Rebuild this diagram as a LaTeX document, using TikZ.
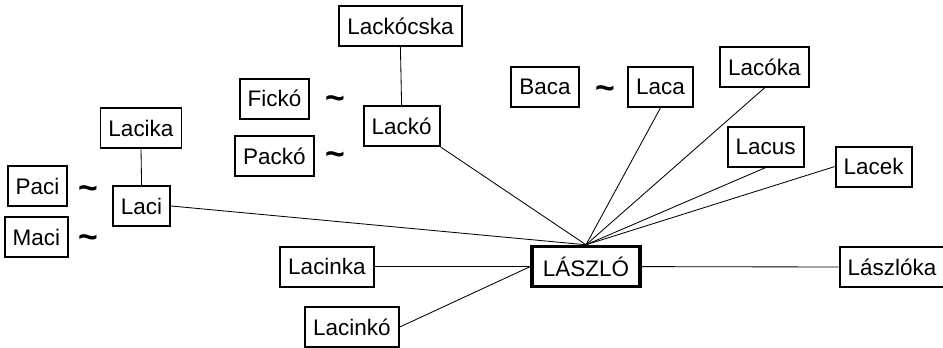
\documentclass[tikz,border=0pt]{standalone}
\usepackage{fontspec}
\setmainfont{Liberation Sans}
\usepackage{tikz}

\begin{document}
\begin{tikzpicture}[
	namebox/.style={draw,line width=1.4pt,inner xsep=0.2cm,minimum height=1cm,font=\fontsize{16}{18}\selectfont},
	mainbox/.style={namebox,line width=2.6pt,inner xsep=0.27cm},
	rokon/.style={font=\fontsize{24}{24}\selectfont\bfseries},
	kapcs/.style={line width=0.6pt}]
			\useasboundingbox (0,0) rectangle (23.575,8.675);
			\node[mainbox] (laszlo) at (14.65,2.01) {LÁSZLÓ};
			\node[namebox] (laci) at (3.54,3.525) {Laci};
			\node[namebox] (lacika) at (3.525,5.475) {Lacika};
			\node[namebox] (paci) at (0.94,4.025) {Paci};
			\node[namebox] (maci) at (0.91,2.75) {Maci};
			\node[rokon] (t1) at (2.2,3.86) {\textasciitilde};
			\node[rokon] (t2) at (2.2,2.64) {\textasciitilde};
			\node[namebox] (lacko) at (10.04,5.525) {Lackó};
			\node[namebox] (lackocska) at (10.01,8.025) {Lackócska};
			\node[namebox] (ficko) at (6.86,6.21) {Fickó};
			\node[namebox] (packo) at (6.86,4.775) {Packó};
			\node[rokon] (t3) at (8.375,6.12) {\textasciitilde};
			\node[rokon] (t4) at (8.375,4.72) {\textasciitilde};
			\node[namebox] (baca) at (13.625,6.5) {Baca};
			\node[rokon] (t5) at (15.125,6.37) {\textasciitilde};
			\node[namebox] (laca) at (16.51,6.5) {Laca};
			\node[namebox] (lacoka) at (19.11,7.0) {Lacóka};
			\node[namebox] (lacus) at (19.14,5.01) {Lacus};
			\node[namebox] (lacek) at (21.84,4.51) {Lacek};
			\node[namebox] (lacinka) at (8.175,2.01) {Lacinka};
			\node[namebox] (lacinko) at (8.8,0.5) {Lacinkó};
			\node[namebox] (laszloka) at (22.3,2.0) {Lászlóka};
			% ágak
			\draw[kapcs] (lacika.south) -- (laci.north);
			\draw[kapcs] (lackocska.south) -- (lacko.north);
			\draw[kapcs] (laci.east) -- (laszlo.north);
			\draw[kapcs] (lacko.south east) -- (laszlo.north);
			\draw[kapcs] (laca.south) -- (laszlo.north);
			\draw[kapcs] (lacoka.south) -- (laszlo.north);
			\draw[kapcs] (lacus.south) -- (laszlo.north);
			\draw[kapcs] (lacek.west) -- (laszlo.north);
			\draw[kapcs] (lacinka.east) -- (laszlo.west);
			\draw[kapcs] (lacinko.east) -- (laszlo.west);
			\draw[kapcs] (laszlo.east) -- (laszloka.west);
		\end{tikzpicture}
\end{document}
